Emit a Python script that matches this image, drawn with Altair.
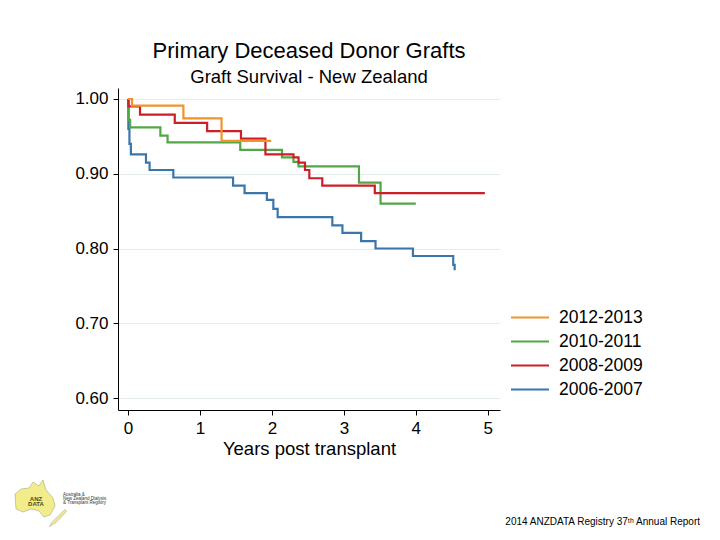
import altair as alt
import pandas as pd

# Kaplan-Meier step data (time in years, survival proportion)
orange_t = [0, 0.056, 0.77, 1.30, 1.99]
orange_s = [1.0, 0.991, 0.974, 0.944, 0.944]

green_t = [0, 0.01, 0.03, 0.45, 0.55, 1.56, 2.14, 2.30, 2.37, 3.21, 3.51, 4.0]
green_s = [1.0, 0.972, 0.962, 0.951, 0.942, 0.932, 0.922, 0.916, 0.910, 0.888, 0.860, 0.860]

red_t = [0, 0.005, 0.167, 0.65, 1.10, 1.57, 1.91, 2.30, 2.37, 2.46, 2.52, 2.70, 3.43, 4.96]
red_s = [1.0, 0.99, 0.979, 0.968, 0.957, 0.947, 0.926, 0.922, 0.915, 0.905, 0.894, 0.884, 0.874, 0.874]

blue_t = [0, 0.005, 0.02, 0.04, 0.25, 0.30, 0.63, 1.46, 1.62, 1.93, 2.02, 2.08, 2.84, 2.98, 3.24, 3.44, 3.96, 4.52, 4.54]
blue_s = [1.0, 0.96, 0.94, 0.926, 0.915, 0.905, 0.895, 0.884, 0.874, 0.865, 0.853, 0.842, 0.831, 0.821, 0.810, 0.800, 0.790, 0.778, 0.771]

series_names = ["2012-2013", "2010-2011", "2008-2009", "2006-2007"]
series_colors = ["#F0932C", "#52A647", "#CC1F26", "#3B76AA"]
y_ticks = [0.6, 0.7, 0.8, 0.9, 1.0]
x_ticks = [0, 1, 2, 3, 4, 5]

rows = []
for name, ts, ss, order in [
    ("2006-2007", blue_t, blue_s, 0),
    ("2010-2011", green_t, green_s, 1),
    ("2008-2009", red_t, red_s, 2),
    ("2012-2013", orange_t, orange_s, 3),
]:
    for t, s in zip(ts, ss):
        rows.append({"group": name, "t": t, "s": s, "o": order})
df = pd.DataFrame(rows)

FONT = "Liberation Sans"

lines = alt.Chart(df).mark_line(interpolate="step-after", strokeWidth=2.2).encode(
    x=alt.X("t:Q",
            scale=alt.Scale(domain=[-0.139, 5.17], nice=False, zero=False),
            axis=alt.Axis(values=x_ticks, format="d", title="Years post transplant",
                          grid=False, tickSize=5, labelPadding=5, titlePadding=3,
                          titleFontSize=18.5, titleFontWeight="normal")),
    y=alt.Y("s:Q",
            scale=alt.Scale(domain=[0.584, 1.0147], nice=False, zero=False),
            axis=alt.Axis(values=y_ticks, format=".2f", title=None, grid=True,
                          gridColor="#E4EBEF", gridWidth=1.2, tickSize=5, labelPadding=5)),
    color=alt.Color("group:N",
                    scale=alt.Scale(domain=series_names, range=series_colors),
                    legend=alt.Legend(title=None, orient="none", legendX=392, legendY=221,
                                      symbolType="stroke", symbolSize=1444,
                                      symbolStrokeWidth=2, labelFontSize=17.5,
                                      labelFont=FONT, labelColor="black",
                                      clipHeight=17, rowPadding=6, labelOffset=9)),
    order=alt.Order("o:Q"),
    detail="group:N",
)

title_df = pd.DataFrame({"txt": ["Primary Deceased Donor Grafts"]})
title = alt.Chart(title_df).mark_text(fontSize=22, font=FONT, align="center",
                                      baseline="alphabetic", color="black").encode(
    text="txt:N", x=alt.value(191), y=alt.value(-30))

sub_df = pd.DataFrame({"txt": ["Graft Survival - New Zealand"]})
subtitle = alt.Chart(sub_df).mark_text(fontSize=18.5, font=FONT, align="center",
                                       baseline="alphabetic", color="black").encode(
    text="txt:N", x=alt.value(191), y=alt.value(-5))

foot_df = pd.DataFrame({"txt": ["2014 ANZDATA Registry 37ᵗʰ Annual Report"]})
footer = alt.Chart(foot_df).mark_text(fontSize=10, font=FONT, align="right",
                                      baseline="alphabetic", color="black").encode(
    text="txt:N", x=alt.value(582), y=alt.value(437))

# logo decoration (map silhouette)
map_df = pd.DataFrame({"k": ["map"]})
map_shape = ("M-1,-0.3 L-0.7,-0.55 L-0.3,-0.6 L-0.1,-0.9 L0.2,-0.7 L0.4,-1 "
             "L0.55,-0.5 L0.9,-0.1 L1,0.3 L0.75,0.75 L0.45,0.85 L0.2,0.55 "
             "L-0.2,0.45 L-0.6,0.6 L-0.95,0.45 Z")
logo_map = alt.Chart(map_df).mark_point(
    shape=map_shape, size=1600, filled=True, fill="#F3EC8A",
    stroke="#A8A88A", strokeWidth=0.6, opacity=1).encode(
    x=alt.value(-83), y=alt.value(412))

nz_shape = "M0.8,-1 L1,-0.8 L0.3,0 L-0.2,0.5 L-1,1 L-0.8,0.6 L0,-0.2 Z"
logo_nz = alt.Chart(map_df).mark_point(
    shape=nz_shape, size=300, filled=True, fill="#EDE79A",
    stroke="#A8A88A", strokeWidth=0.5, opacity=1).encode(
    x=alt.value(-60), y=alt.value(430))

logo_lines = ["Australia &", "New Zealand Dialysis", "& Transplant Registry"]
logo_df = pd.DataFrame({"txt": logo_lines, "i": [0, 1, 2]})
logo_txt = alt.Chart(logo_df).mark_text(fontSize=4.5, font=FONT, align="left",
                                        baseline="middle", color="#333333").encode(
    text="txt:N",
    x=alt.value(-55),
    y=alt.Y("i:O", axis=None, scale=alt.Scale(range=[405, 417])),
)

logo_df2 = pd.DataFrame({"txt": ["ANZ", "DATA"], "i": [0, 1]})
logo_big = alt.Chart(logo_df2).mark_text(fontSize=6, font=FONT, fontWeight="bold",
                                         align="center", baseline="middle",
                                         color="#4A4A20").encode(
    text="txt:N",
    x=alt.value(-82),
    y=alt.Y("i:O", axis=None, scale=alt.Scale(range=[408, 418])),
)

chart = alt.layer(lines, title, subtitle, footer, logo_map, logo_nz,
                  logo_txt, logo_big).resolve_scale(
    y="independent"
).properties(
    width=382, height=322,
    autosize=alt.AutoSizeParams(type="none"),
    padding={"left": 110, "top": 80, "right": 200, "bottom": 120},
).configure_view(stroke=None).configure_axis(
    domainColor="black", tickColor="black", labelColor="black", titleColor="black",
    labelFont=FONT, titleFont=FONT, labelFontSize=17, domainWidth=1, tickWidth=1,
)

chart.save("out.html", embed_options={"renderer": "svg", "actions": False})
